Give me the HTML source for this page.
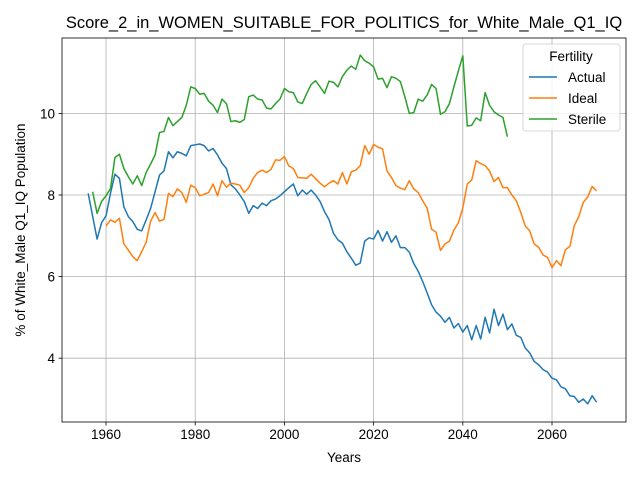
<!DOCTYPE html>
<html><head><meta charset="utf-8"><style>
body{margin:0;background:#fff;}
svg text{font-family:"Liberation Sans","DejaVu Sans",sans-serif;fill:#000;}
</style></head><body>
<svg id="chart" width="640" height="480" xmlns="http://www.w3.org/2000/svg">
<rect width="640" height="480" fill="#fff"/>
<g id="grid"></g>
<g id="lines"></g>
<g id="axes"></g>
</svg>
<script>
const actualStart = 1956;
const actualValues = [8.04,7.48,6.92,7.32,7.49,8.04,8.51,8.41,7.71,7.47,7.35,7.16,7.12,7.39,7.67,8.08,8.49,8.59,9.06,8.91,9.06,9.02,8.96,9.21,9.23,9.25,9.21,9.08,9.14,8.98,8.78,8.65,8.25,8.15,8.0,7.84,7.55,7.74,7.67,7.80,7.74,7.86,7.90,7.98,8.08,8.18,8.27,7.98,8.12,8.02,8.12,8.0,7.84,7.59,7.40,7.06,6.90,6.82,6.61,6.45,6.28,6.33,6.87,6.95,6.92,7.13,6.87,7.10,6.84,7.00,6.71,6.71,6.60,6.32,6.13,5.88,5.60,5.31,5.13,5.03,4.88,5.0,4.74,4.85,4.64,4.80,4.45,4.80,4.47,5.0,4.62,5.2,4.80,5.08,4.70,4.84,4.56,4.51,4.25,4.13,3.92,3.84,3.72,3.66,3.51,3.47,3.30,3.25,3.08,3.06,2.92,3.0,2.88,3.08,2.92];
const idealStart = 1960;
const idealValues = [7.24,7.39,7.33,7.43,6.80,6.65,6.49,6.39,6.61,6.84,7.36,7.57,7.36,7.40,8.04,7.96,8.15,8.06,7.82,8.24,8.18,7.98,8.02,8.06,8.27,7.98,8.35,8.19,8.29,8.27,8.24,8.06,8.18,8.41,8.55,8.61,8.55,8.63,8.86,8.85,8.94,8.71,8.65,8.43,8.42,8.41,8.51,8.40,8.29,8.20,8.29,8.35,8.27,8.55,8.27,8.57,8.61,8.72,9.21,9.0,9.24,9.17,9.13,8.59,8.43,8.23,8.17,8.13,8.35,8.15,8.06,7.86,7.68,7.16,7.09,6.64,6.80,6.87,7.14,7.32,7.68,8.27,8.37,8.84,8.77,8.72,8.59,8.33,8.43,8.18,8.18,8.0,7.86,7.57,7.24,7.12,6.80,6.72,6.53,6.47,6.22,6.39,6.27,6.66,6.74,7.25,7.47,7.82,7.95,8.21,8.10];
const sterileStart = 1957;
const sterileValues = [8.08,7.55,7.84,7.98,8.16,8.92,9.0,8.65,8.45,8.27,8.47,8.23,8.55,8.76,8.98,9.53,9.56,9.90,9.70,9.80,9.90,10.20,10.65,10.61,10.47,10.49,10.30,10.20,10.02,10.35,10.24,9.80,9.82,9.78,9.85,10.41,10.45,10.35,10.33,10.13,10.11,10.24,10.35,10.61,10.53,10.51,10.28,10.24,10.49,10.71,10.80,10.65,10.49,10.79,10.76,10.65,10.90,11.06,11.16,11.08,11.43,11.29,11.23,11.14,10.84,10.86,10.63,10.90,10.86,10.78,10.41,10.0,10.02,10.35,10.30,10.45,10.71,10.61,9.98,10.04,10.24,10.65,11.04,11.41,9.69,9.71,9.89,9.82,10.51,10.20,10.04,9.96,9.90,9.43];
const xTicks = [1960,1980,2000,2020,2040,2060];
const yTicks = [4,6,8,10];

const L=62,R=626,T=38,B=422;
const xMin=1950.13,xMax=2076.59,yMin=2.436,yMax=11.848;
const xs=v=>L+(v-xMin)/(xMax-xMin)*(R-L);
const ys=v=>B-(v-yMin)/(yMax-yMin)*(B-T);
const NS="http://www.w3.org/2000/svg";
function mk(tag,attrs,parent){const e=document.createElementNS(NS,tag);for(const k in attrs)e.setAttribute(k,attrs[k]);parent.appendChild(e);return e;}
const grid=document.getElementById('grid'),lines=document.getElementById('lines'),axes=document.getElementById('axes');
xTicks.forEach(t=>{
  const g=mk('line',{x1:xs(t),x2:xs(t),y1:T,y2:B,stroke:'#b0b0b0','stroke-width':0.8},grid);
  
  
  mk('line',{x1:xs(t),x2:xs(t),y1:B,y2:B+3.5,stroke:'#000','stroke-width':0.8},axes);
  const tx=mk('text',{x:xs(t),y:B+17,'text-anchor':'middle','font-size':'13.5'},axes);
  tx.textContent=t;
  
  
});
yTicks.forEach(t=>{
  const g=mk('line',{x1:L,x2:R,y1:ys(t),y2:ys(t),stroke:'#b0b0b0','stroke-width':0.8},grid);
  
  
  mk('line',{x1:L-3.5,x2:L,y1:ys(t),y2:ys(t),stroke:'#000','stroke-width':0.8},axes);
  const tx=mk('text',{x:L-7,y:ys(t)+5,'text-anchor':'end','font-size':'13.5'},axes);
  tx.textContent=t;
  
  
});
function series(start,vals,color,name){
  const d=vals.map((v,i)=>(i?'L':'M')+xs(start+i).toFixed(2)+','+ys(v).toFixed(2)).join('');
  const p=mk('path',{d:d,fill:'none',stroke:color,'stroke-width':1.5,'stroke-linejoin':'round'},lines);
  
  
}
series(actualStart,actualValues,'#1f77b4','actual-line');
series(idealStart,idealValues,'#ff7f0e','ideal-line');
series(sterileStart,sterileValues,'#2ca02c','sterile-line');
const fr=mk('rect',{x:L,y:T,width:R-L,height:B-T,fill:'none',stroke:'#000','stroke-width':0.8},axes);


</script>
<svg style="position:absolute;left:0;top:0" width="640" height="480" xmlns="http://www.w3.org/2000/svg">
<text x="344" y="28" text-anchor="middle" font-size="16.5">Score_2_in_WOMEN_SUITABLE_FOR_POLITICS_for_White_Male_Q1_IQ</text>
<text x="344" y="462" text-anchor="middle" font-size="13.5">Years</text>
<text transform="translate(25,230) rotate(-90)" text-anchor="middle" font-size="13.5">% of White_Male Q1_IQ Population</text>
<g>
<rect x="523" y="44" width="97" height="87" rx="3" fill="#fff" fill-opacity="0.8" stroke="#ccc" stroke-width="0.8"/>
<text x="571" y="61" text-anchor="middle" font-size="13.5">Fertility</text>
<g><line x1="529" x2="557" y1="77" y2="77" stroke="#1f77b4" stroke-width="1.5"/><text x="568" y="82" font-size="13.5">Actual</text></g>
<g><line x1="529" x2="557" y1="98" y2="98" stroke="#ff7f0e" stroke-width="1.5"/><text x="568" y="103" font-size="13.5">Ideal</text></g>
<g><line x1="529" x2="557" y1="119" y2="119" stroke="#2ca02c" stroke-width="1.5"/><text x="568" y="124" font-size="13.5">Sterile</text></g>
</g>
</svg>
</body></html>
